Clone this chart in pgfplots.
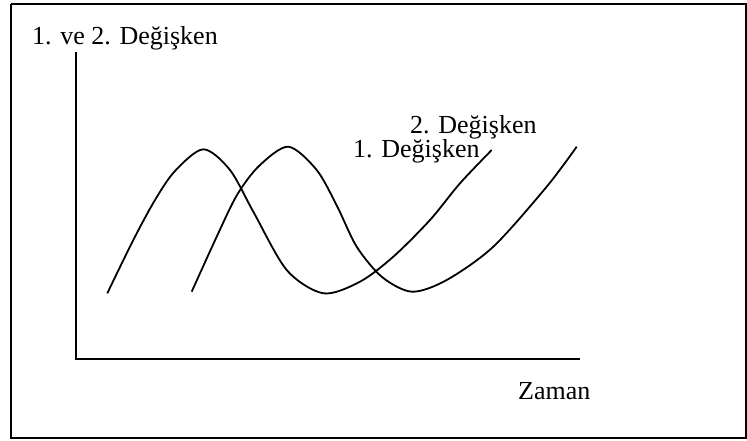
\documentclass[border=0pt]{standalone}
\usepackage{fontspec}
\setmainfont{Liberation Serif}
\usepackage{pgfplots}
\pgfplotsset{compat=1.18}
\newcommand{\bigf}{\fontsize{26bp}{30bp}\selectfont}
\begin{document}
\begin{tikzpicture}
\begin{axis}[
  width=747bp, height=441bp, scale only axis,
  xmin=0, xmax=747, ymin=0, ymax=441, y dir=reverse,
  hide axis, clip=false,
]
\path (axis cs:0,0) rectangle (axis cs:747,441);
% outer frame
\addplot[black, line width=2bp] coordinates {(11,4) (745.5,4) (745.5,438) (11,438) (11,4)};
% axes
\addplot[black, line width=2bp] coordinates {(76,52) (76,359)};
\addplot[black, line width=2bp] coordinates {(75,359) (580,359)};
% 1. Degisken
\addplot[black, line width=1.8bp, smooth] coordinates {
(107.3,293.3) (133.3,240) (155,200) (175,171) (203.3,149.3) (230,170)
(253.3,211.7) (286.7,270) (323.3,293.3) (360,281.7) (393.3,256.7) (430,220)
(460,183.3) (491.7,150)};
% 2. Degisken
\addplot[black, line width=1.8bp, smooth] coordinates {
(191.7,291.7) (216.7,236.7) (237,195) (259,166) (288.3,146.7) (316.7,170)
(337,206) (356.7,246.7) (382,277) (412,291.7) (446.7,280) (493.3,246.7)
(546.7,186.7) (576.7,146.7)};
\node[anchor=base west, inner sep=0pt, font=\bigf] at (axis cs:32,45) {1. ve 2. Değişken};
\node[anchor=base west, inner sep=0pt, font=\bigf] at (axis cs:410,133) {2. Değişken};
\node[anchor=base west, inner sep=0pt, font=\bigf] at (axis cs:353,157) {1. Değişken};
\node[anchor=base west, inner sep=0pt, font=\bigf] at (axis cs:518,399) {Zaman};
\end{axis}
\end{tikzpicture}
\end{document}
